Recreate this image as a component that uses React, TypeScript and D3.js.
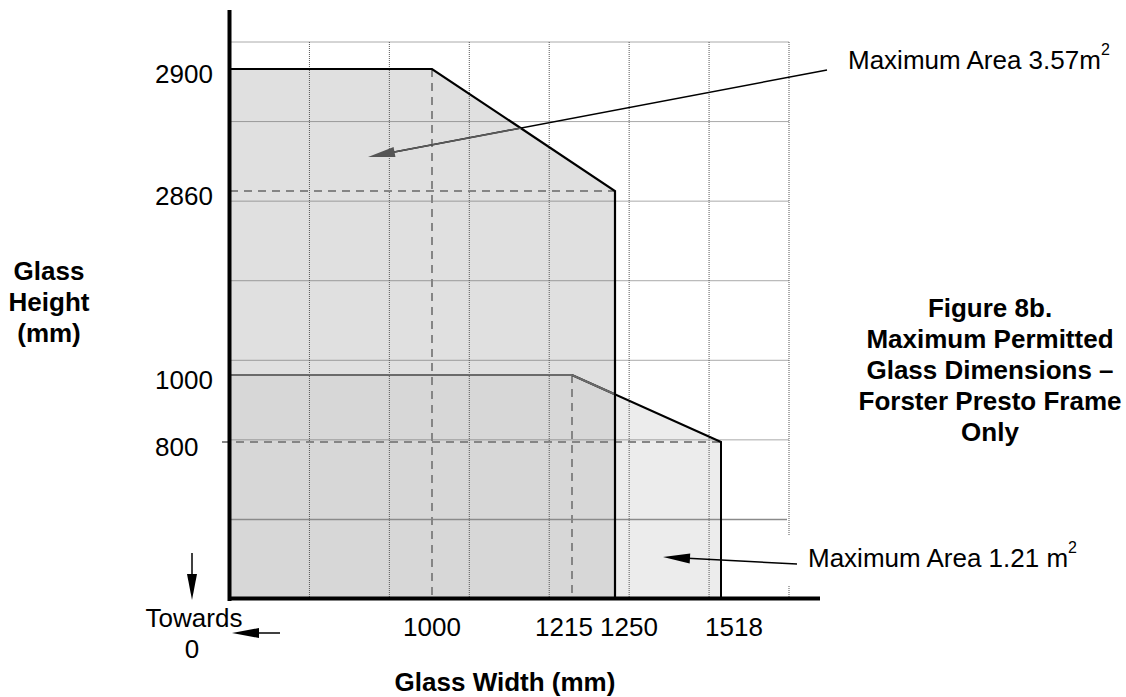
import React from "react";
import * as d3 from "d3";

// ---- data ----
const widthTicks = [1000, 1215, 1250, 1518];
const heightTicks = [2900, 2860, 1000, 800];
const upperEnvelope: [number, number][] = [
  [0, 0],
  [0, 2900],
  [1000, 2900],
  [1250, 2860],
  [1250, 0],
];
const lowerEnvelope: [number, number][] = [
  [0, 0],
  [0, 1000],
  [1215, 1000],
  [1518, 800],
  [1518, 0],
];
const upperLabel = "Maximum Area 3.57m";
const lowerLabel = "Maximum Area 1.21 m";
const titleLines = [
  "Figure 8b.",
  "Maximum Permitted",
  "Glass Dimensions \u2013",
  "Forster Presto Frame",
  "Only",
];
const yTitleLines = ["Glass", "Height", "(mm)"];
const xTitle = "Glass Width (mm)";

// label nudges (layout only)
const xLabelNudge: Record<number, number> = { 1000: 0, 1215: -8, 1250: 14, 1518: 13 };

const W = 1126;
const H = 697;
const FONT = "'Liberation Sans', Arial, Helvetica, sans-serif";
const FS = 26;

export default function App() {
  // schematic (piecewise) scales
  const x = d3
    .scaleLinear()
    .domain([0, 1000, 1215, 1250, 1518])
    .range([230, 432, 572, 615, 721]);
  const y = d3
    .scaleLinear()
    .domain([0, 800, 1000, 2860, 2900])
    .range([599, 442, 375, 191, 69]);
  // background grid scales
  const gx = d3.scaleLinear().domain([0, 7]).range([229.5, 789]);
  const gy = d3.scaleLinear().domain([0, 7]).range([42, 599]);

  const line = d3
    .line<[number, number]>()
    .x((d) => x(d[0]))
    .y((d) => y(d[1]));

  const upperPath = line(upperEnvelope) + "Z";
  const lowerPath = line(lowerEnvelope) + "Z";
  const upperOutline = line(upperEnvelope.slice(1))!;
  const lowerOutline = line(lowerEnvelope.slice(1))!;

  const gridCols = d3.range(1, 8);
  const gridRows = d3.range(0, 6);

  const head = (tx: number, ty: number, ang: number, len: number, hw: number) => {
    const bx = tx - len * Math.cos(ang);
    const by = ty - len * Math.sin(ang);
    const px = -Math.sin(ang) * hw;
    const py = Math.cos(ang) * hw;
    return `M${tx},${ty}L${bx + px},${by + py}L${bx - px},${by - py}Z`;
  };
  // leader for upper label
  const l1 = { x1: 827, y1: 70, x2: 368, y2: 157 };
  const ang1 = Math.atan2(l1.y2 - l1.y1, l1.x2 - l1.x1);
  // leader for lower label
  const l2 = { x1: 797, y1: 564, x2: 663, y2: 557 };
  const ang2 = Math.atan2(l2.y2 - l2.y1, l2.x2 - l2.x1);

  return (
    <svg
      width={W}
      height={H}
      style={{ position: "absolute", left: 0, top: 0, background: "#fff" }}
      fontFamily={FONT}
    >
      <defs>
        <clipPath id="upperClip">
          <path d={upperPath} />
        </clipPath>
      </defs>

      {/* fills */}
      <path d={upperPath} fill="#e0e0e0" />
      <path d={lowerPath} fill="rgb(196,196,196)" fillOpacity={0.32} />

      {/* grid */}
      <g stroke="#555" strokeWidth={1} strokeDasharray="1,1">
        {gridRows.map((r) => (
          <line key={"r" + r} x1={gx(0)} x2={gx(7)} y1={gy(r)} y2={gy(r)} />
        ))}
        {gridCols.map((c) => (
          <line key={"c" + c} x1={gx(c)} x2={gx(c)} y1={gy(0)} y2={gy(7)} />
        ))}
      </g>
      <line x1={gx(0)} x2={gx(7) - 2} y1={gy(6)} y2={gy(6)} stroke="#8a8a8a" strokeWidth={1.6} />

      {/* dashed guides */}
      <g stroke="#858585" strokeWidth={2} strokeDasharray="8,6" fill="none">
        <line x1={x(1000)} x2={x(1000)} y1={y(2900)} y2={y(0)} />
        <line x1={x(0)} x2={x(1250)} y1={y(2860)} y2={y(2860)} />
        <line x1={x(0) - 8} x2={x(1518)} y1={y(800)} y2={y(800)} />
        <line x1={x(1215)} x2={x(1215)} y1={y(1000)} y2={y(0)} />
      </g>

      {/* outlines */}
      <path d={lowerOutline} fill="none" stroke="#000" strokeWidth={2} />
      <path d={lowerOutline} fill="none" stroke="#6a6a6a" strokeWidth={2.2} clipPath="url(#upperClip)" />
      <path d={upperOutline} fill="none" stroke="#000" strokeWidth={2.2} />

      {/* axes */}
      <line x1={229.5} x2={229.5} y1={10} y2={601} stroke="#000" strokeWidth={4} />
      <line x1={228} x2={820} y1={598.5} y2={598.5} stroke="#000" strokeWidth={4} />

      {/* y tick labels */}
      <g fontSize={FS} fill="#000">
        {heightTicks.map((v) => (
          <text key={v} x={155} y={y(v) + 7} dominantBaseline="middle">
            {v}
          </text>
        ))}
      </g>

      {/* x tick labels */}
      <g fontSize={FS} fill="#000" textAnchor="middle">
        {widthTicks.map((v) => (
          <text key={v} x={x(v) + xLabelNudge[v]} y={629} dominantBaseline="middle">
            {v}
          </text>
        ))}
      </g>

      {/* towards 0 */}
      <g fontSize={FS} fill="#000" textAnchor="middle">
        <text x={194} y={620} dominantBaseline="middle">Towards</text>
        <text x={192} y={651} dominantBaseline="middle">0</text>
      </g>
      <line x1={192} x2={192} y1={553} y2={580} stroke="#000" strokeWidth={1.5} />
      <path d={head(192, 600, Math.PI / 2, 26, 5)} fill="#000" />
      <line x1={280} x2={255} y1={633} y2={633} stroke="#000" strokeWidth={1.5} />
      <path d={head(232, 633, Math.PI, 27, 5)} fill="#000" />

      {/* axis titles */}
      <text x={505} y={684} fontSize={FS} fontWeight="bold" textAnchor="middle" dominantBaseline="middle">
        {xTitle}
      </text>
      <g fontSize={FS} fontWeight="bold" textAnchor="middle">
        {yTitleLines.map((t, i) => (
          <text key={t} x={49} y={273 + i * 31} dominantBaseline="middle">
            {t}
          </text>
        ))}
      </g>

      {/* figure title */}
      <g fontSize={FS} fontWeight="bold" textAnchor="middle">
        {titleLines.map((t, i) => (
          <text key={t} x={990} y={310 + i * 31} dominantBaseline="middle">
            {t}
          </text>
        ))}
      </g>

      {/* upper label + leader */}
      <line x1={l1.x1} y1={l1.y1} x2={l1.x2 - 20 * Math.cos(ang1)} y2={l1.y2 - 20 * Math.sin(ang1)} stroke="#000" strokeWidth={1.5} />
      <g clipPath="url(#upperClip)">
        <line x1={l1.x1} y1={l1.y1} x2={l1.x2 - 20 * Math.cos(ang1)} y2={l1.y2 - 20 * Math.sin(ang1)} stroke="#5a5a5a" strokeWidth={1.6} />
      </g>
      <path d={head(l1.x2, l1.y2, ang1, 27, 5)} fill="#555" />
      <text x={848} y={62} fontSize={FS} dominantBaseline="middle">
        {upperLabel}
        <tspan fontSize={16} dy={-11}>2</tspan>
      </text>

      {/* lower label + leader */}
      <rect x={786} y={535} width={320} height={50} fill="#fff" />
      <line x1={l2.x1} y1={l2.y1} x2={l2.x2 - 20 * Math.cos(ang2)} y2={l2.y2 - 20 * Math.sin(ang2)} stroke="#000" strokeWidth={1.5} />
      <path d={head(l2.x2, l2.y2, ang2, 27, 5)} fill="#000" />
      <text x={808} y={560} fontSize={FS} dominantBaseline="middle">
        {lowerLabel}
        <tspan fontSize={16} dy={-11}>2</tspan>
      </text>
    </svg>
  );
}
